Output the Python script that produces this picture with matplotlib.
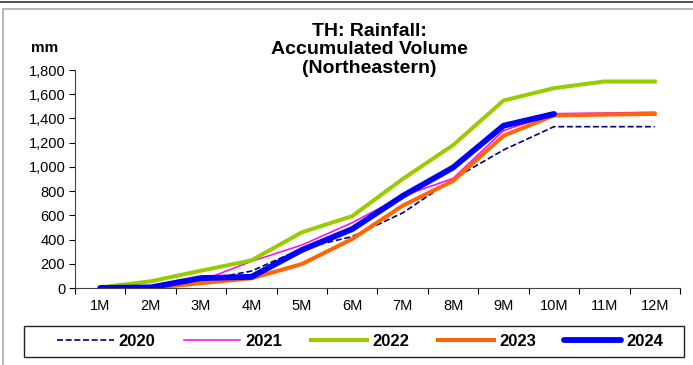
import matplotlib.pyplot as plt
from matplotlib.patches import Rectangle
from matplotlib.lines import Line2D

plt.rcParams['font.family'] = ['Liberation Sans', 'DejaVu Sans']

months = ['1M', '2M', '3M', '4M', '5M', '6M', '7M', '8M', '9M', '10M', '11M', '12M']
y2020 = [0, 10, 60, 140, 325, 425, 620, 900, 1140, 1332, 1332, 1332]
y2021 = [0, 5, 60, 220, 355, 540, 760, 905, 1300, 1440, 1445, 1452]
y2022 = [5, 55, 143, 228, 460, 594, 900, 1180, 1548, 1650, 1705, 1705]
y2023 = [0, 0, 40, 80, 198, 405, 680, 885, 1257, 1425, 1432, 1437]
y2024 = [0, 5, 82, 92, 314, 487, 760, 995, 1340, 1437]

fig = plt.figure(figsize=(6.93, 3.65), dpi=100)
ax = fig.add_axes([75/693, 77/365, 605/693, 218/365])

x = list(range(len(months)))
ax.plot(x, y2020, color='#000080', lw=1.2, ls=(0, (3.6, 1.6)), label='2020')
ax.plot(x, y2021, color='#FF00FF', lw=1.1, label='2021')
ax.plot(x, y2022, color='#99CC00', lw=2.9, label='2022')
ax.plot(x, y2023, color='#FF6600', lw=2.9, label='2023')
ax.plot(x[:len(y2024)], y2024, color='#0000FF', lw=4.2, solid_capstyle='round', label='2024')

ax.set_xlim(-0.5, 11.5)
ax.set_ylim(0, 1800)
ax.set_yticks(range(0, 1801, 200))
ax.set_yticklabels([f'{v:,}' for v in range(0, 1801, 200)], fontsize=10.5)
ax.set_xticks(x)
ax.set_xticklabels(months, fontsize=10.5)
ax.set_xticks([i - 0.5 for i in range(13)], minor=True)
ax.tick_params(axis='x', which='major', length=0, pad=8)
ax.tick_params(axis='x', which='minor', length=4, width=0.8, direction='out')
ax.tick_params(axis='y', length=4, width=0.8, direction='out', pad=3)
for s in ['top', 'right']:
    ax.spines[s].set_visible(False)
for s in ['left', 'bottom']:
    ax.spines[s].set_color('#444444')
    ax.spines[s].set_linewidth(0.8)

fig.text(369/693, 1 - 50/365, 'TH: Rainfall:\nAccumulated Volume\n(Northeastern)',
         ha='center', va='center', fontsize=14, fontweight='bold', linespacing=1.1)
fig.text(45/693, 1 - 48/365, 'mm', ha='center', va='center', fontsize=11, fontweight='bold')

# outer frames
fig.add_artist(Line2D([0, 1], [1 - 2/365, 1 - 2/365], color='#333333', lw=1.2))
fig.add_artist(Rectangle((3/693, -0.01), 700/693, 1 - 9/365 + 0.01, fill=False,
                         edgecolor='#aaaaaa', lw=1.2, transform=fig.transFigure))

# legend box
fig.add_artist(Rectangle((24/693, 1 - 357/365), 660/693, 31/365, fill=False,
                         edgecolor='#222222', lw=1.0, transform=fig.transFigure))
leg = fig.legend(loc='center', bbox_to_anchor=(360/693, 1 - 341/365), ncol=5,
                 prop={'size': 12, 'weight': 'bold'}, frameon=False,
                 handlelength=3.4, handletextpad=0.3, columnspacing=1.7,
                 borderpad=0.2)

fig.savefig('out.png', dpi=100)
